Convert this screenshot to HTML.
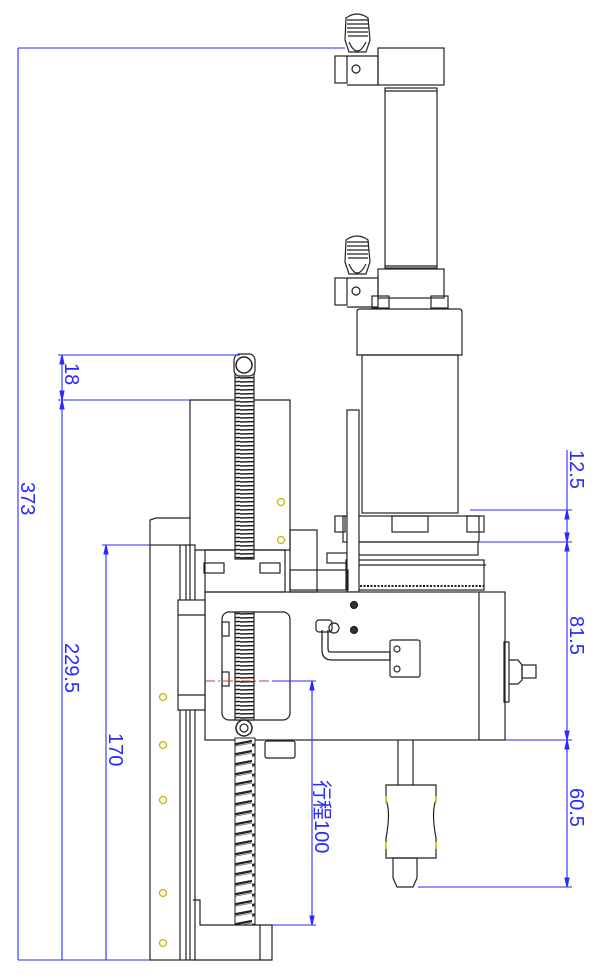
<!DOCTYPE html>
<html><head><meta charset="utf-8"><style>
html,body{margin:0;padding:0;background:#fff;}
svg{display:block;}
text{font-family:"Liberation Sans","Noto Sans CJK SC",sans-serif;fill:#2a2aff;font-size:20px;}
</style></head><body>
<svg width="600" height="978" viewBox="0 0 600 978" xmlns="http://www.w3.org/2000/svg">
<defs>
<pattern id="thr" width="20" height="4" patternUnits="userSpaceOnUse">
<rect width="20" height="4" fill="#fff"/><line x1="0" y1="2" x2="20" y2="1.5" stroke="#222" stroke-width="1.4"/>
</pattern>
<pattern id="thr2" x="0" y="738" width="21" height="10" patternUnits="userSpaceOnUse">
<rect width="21" height="10" fill="#fff"/><path d="M0 7 L21 3" stroke="#222" stroke-width="2.2" fill="none"/><path d="M0 9 L21 5" stroke="#666" stroke-width="0.8" fill="none"/>
</pattern>
</defs>
<g fill="none" stroke="#222" stroke-width="1.2">
<!-- top cylinder -->
<rect x="378" y="48" width="66" height="37"/>
<rect x="385" y="88" width="52" height="180"/>
<line x1="385" y1="91" x2="437" y2="91"/>
<line x1="385" y1="266" x2="437" y2="266"/>
<rect x="378" y="269" width="66" height="29"/>
<rect x="372" y="296" width="17" height="12"/>
<rect x="431" y="296" width="17" height="12"/>
<!-- fittings -->
<g id="fit">
<path d="M346 18 Q357 10 368 18 L370 40 L366 52 L349 52 L345 40 Z" fill="#fff"/>
<path d="M347 20 L369 20 M347 24 L369 24 M347 28 L369 28 M347 32 L368 32 M348 36 L368 36"/>
<rect x="335" y="56" width="12" height="27"/>
<path d="M347 56 L378 56 L378 85 L347 85"/>
<circle cx="356" cy="69" r="4"/>
<path d="M349 42 Q357 60 366 42"/>
</g>
<use href="#fit" transform="translate(0,222)"/>
<!-- motor -->
<path d="M357 312 Q357 309 360 309 L459 309 Q462 309 462 312 L462 355 L357 355 Z"/>
<rect x="362" y="355" width="96" height="158"/>
<rect x="343" y="516" width="136" height="26"/>
<rect x="335" y="516" width="10" height="16"/>
<rect x="467" y="516" width="17" height="16"/>
<rect x="392" y="516" width="36" height="16"/>
<rect x="350" y="542" width="128" height="13"/>
<rect x="346" y="560" width="138" height="30"/>
<line x1="346" y1="565" x2="486" y2="565"/>
<line x1="346" y1="586" x2="486" y2="586" stroke-dasharray="2 1.5" stroke-width="2"/>
<rect x="327" y="553" width="20" height="10"/>
<!-- vertical plate -->
<rect x="347" y="410" width="12" height="182" fill="#fff"/>
<!-- main block -->
<rect x="205" y="592" width="300" height="148" fill="#fff"/>
<line x1="479" y1="592" x2="479" y2="740"/>
<rect x="504" y="642" width="5" height="60"/>
<path d="M509 660 L518 660 L522 665 L522 680 L518 684 L509 684"/>
<rect x="522" y="665" width="14" height="13"/>
<rect x="222" y="612" width="68" height="108" rx="7"/>
<rect x="222" y="622" width="7" height="14"/>
<rect x="222" y="672" width="7" height="14"/>
<circle cx="354" cy="605" r="3.5" fill="#333"/>
<circle cx="354" cy="630" r="3.5" fill="#333"/>
<path d="M322 630 L322 650 Q322 660 332 660 L390 660 L390 652 L330 652 Q328 652 328 648 L328 630" stroke-width="1.3"/>
<rect x="316" y="620" width="16" height="12" rx="3"/>
<circle cx="334" cy="628" r="5"/>
<rect x="390" y="640" width="30" height="37" rx="2"/>
<circle cx="397" cy="649" r="3"/><circle cx="397" cy="669" r="3"/>
<!-- left carriage -->
<path d="M190 400 L290 400 L290 550 L190 550 Z"/>
<path d="M150 545 L150 520 L156 518 L190 518"/>
<rect x="290" y="530" width="27" height="62"/>
<rect x="205" y="550" width="80" height="42"/>
<rect x="204" y="563" width="20" height="10"/>
<rect x="260" y="563" width="20" height="10"/>
<rect x="290" y="570" width="58" height="20"/>
<!-- rail -->
<rect x="150" y="545" width="45" height="415" fill="#fff"/>
<line x1="180" y1="545" x2="180" y2="960"/>
<line x1="186" y1="545" x2="186" y2="960"/>
<line x1="190" y1="545" x2="190" y2="960"/>
<rect x="178" y="600" width="27" height="110" fill="#fff"/>
<line x1="178" y1="615" x2="205" y2="615"/>
<line x1="178" y1="695" x2="205" y2="695"/>
<!-- base -->
<path d="M193 900 L200 900 L200 925 L272 925 L272 960 L193 960"/>
<line x1="260" y1="925" x2="260" y2="960"/>
<rect x="265" y="741" width="30" height="17" rx="2"/>
<!-- lead screw -->
<rect x="235" y="365" width="19" height="194" fill="url(#thr)" stroke-width="1.2"/>
<rect x="235" y="612" width="19" height="108" fill="url(#thr)" stroke-width="1.2"/>
<rect x="235" y="738" width="20" height="187" fill="url(#thr2)" stroke="#222" stroke-width="1"/>
<rect x="234" y="354" width="21" height="22" rx="6" fill="#fff"/>
<circle cx="244" cy="365" r="8" stroke-width="1.5"/>
<circle cx="244" cy="728" r="8" fill="#fff" stroke-width="1.5"/>
<circle cx="244" cy="728" r="4"/>
<!-- nozzle -->
<line x1="398" y1="740" x2="398" y2="785"/>
<line x1="413" y1="740" x2="413" y2="785"/>
<path d="M386 785 L436 785 L436 800 Q431 812 436 838 L436 858 L386 858 L386 838 Q391 812 386 800 Z"/>
<path d="M393 858 L417 858 L417 878 L413 887 L397 887 L393 878 Z"/>
</g>
<!-- yellow circles -->
<g fill="none" stroke="#c8b400" stroke-width="1.3">
<circle cx="163" cy="697" r="3.5"/><circle cx="163" cy="745" r="3.5"/><circle cx="163" cy="800" r="3.5"/>
<circle cx="163" cy="893" r="3.5"/><circle cx="163" cy="943" r="3.5"/>
<circle cx="281" cy="502" r="3.5"/><circle cx="281" cy="540" r="3.5"/>
</g>
<g stroke="#d8c800" stroke-width="1.5">
<line x1="386" y1="796" x2="386" y2="803"/><line x1="436" y1="796" x2="436" y2="803"/>
<line x1="386" y1="842" x2="386" y2="849"/><line x1="436" y1="842" x2="436" y2="849"/>
</g>
<!-- red center line -->
<line x1="205" y1="681" x2="272" y2="681" stroke="#e03030" stroke-dasharray="10 3 2 3"/>
<!-- blue dims -->
<g stroke="#2a2aff" stroke-width="1.1" fill="#2a2aff">
<line x1="18" y1="48" x2="345" y2="48"/>
<line x1="18" y1="960" x2="150" y2="960"/>
<line x1="18" y1="48" x2="18" y2="960"/>
<line x1="58" y1="355" x2="240" y2="355"/>
<line x1="58" y1="400" x2="190" y2="400"/>
<line x1="62" y1="355" x2="62" y2="960"/>
<line x1="102" y1="545" x2="150" y2="545"/>
<line x1="106" y1="545" x2="106" y2="960"/>
<line x1="272" y1="681" x2="316" y2="681"/>
<line x1="272" y1="925" x2="316" y2="925"/>
<line x1="312" y1="681" x2="312" y2="925"/>
<line x1="470" y1="510" x2="572" y2="510"/>
<line x1="480" y1="542" x2="572" y2="542"/>
<line x1="505" y1="740" x2="572" y2="740"/>
<line x1="418" y1="887" x2="572" y2="887"/>
<line x1="567" y1="450" x2="567" y2="887"/>
<path d="M62 355 l-2 9 l4 0 Z M62 400 l-2 -9 l4 0 Z M62 400 l-2 9 l4 0 Z M106 545 l-2 9 l4 0 Z M312 681 l-2 9 l4 0 Z M312 925 l-2 -9 l4 0 Z M567 510 l-2 9 l4 0 Z M567 542 l-2 -9 l4 0 Z M567 542 l-2 9 l4 0 Z M567 740 l-2 -9 l4 0 Z M567 740 l-2 9 l4 0 Z M567 887 l-2 -9 l4 0 Z"/>
</g>
<g stroke="none">
<text transform="translate(21,482) rotate(90)">373</text>
<text transform="translate(65,363) rotate(90)">18</text>
<text transform="translate(65,643) rotate(90)">229.5</text>
<text transform="translate(109,733) rotate(90)">170</text>
<text transform="translate(315,780) rotate(90)">行程100</text>
<text transform="translate(570,450) rotate(90)">12.5</text>
<text transform="translate(570,616) rotate(90)">81.5</text>
<text transform="translate(570,788) rotate(90)">60.5</text>
</g>
</svg>
</body></html>
